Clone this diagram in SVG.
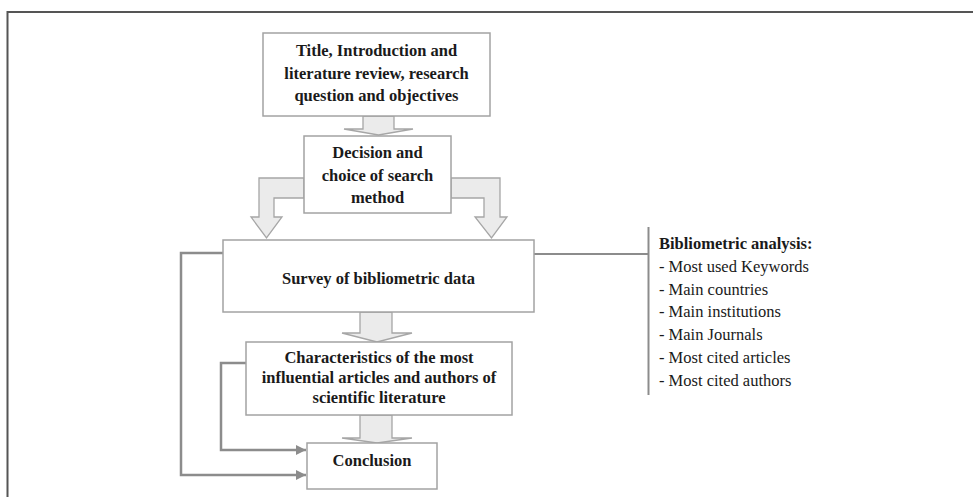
<svg xmlns="http://www.w3.org/2000/svg" width="973" height="497" viewBox="0 0 973 497">
<defs>
<style>
.box{fill:#fff;stroke:#a3a3a3;stroke-width:1.5}
.blk{fill:#ebebeb;stroke:#a6a6a6;stroke-width:1.3;stroke-linejoin:miter}
.fb{fill:none;stroke:#8c8c8c;stroke-width:2.5}
.t{font-family:"Liberation Serif","Times New Roman",serif;font-size:16.5px;font-weight:bold;fill:#1a1a1a;text-anchor:middle}
.l{font-family:"Liberation Serif","Times New Roman",serif;font-size:16.5px;fill:#1a1a1a}
</style>
<marker id="ah" viewBox="0 0 10 10" refX="10" refY="5" markerWidth="4" markerHeight="4" orient="auto" markerUnits="strokeWidth">
<path d="M0,0 L10,5 L0,10 Z" fill="#8c8c8c"/>
</marker>
</defs>
<rect width="973" height="497" fill="#fff"/>
<path d="M7.5,497 V12 H973" fill="none" stroke="#555" stroke-width="2"/>
<g id="connectors">
<polygon class="blk" points="363,116 394,116 394,129 413,129 378.5,135 344,129 363,129"/>
<polygon class="blk" points="304,178 259,178 259,217 251,217 266.5,238 282,217 274,217 274,198 304,198"/>
<polygon class="blk" points="451,178 500,178 500,217 507,217 491.5,238 475,217 484,217 484,198 451,198"/>
<polygon class="blk" points="360,312 392,312 392,333 412,333 377,342 342,333 360,333"/>
<polygon class="blk" points="360,415 392,415 392,438 412,438 377,443 342,438 360,438"/>
<path class="fb" d="M223,253 H181 V475 H306" marker-end="url(#ah)"/>
<path class="fb" d="M246,363 H221 V450 H306" marker-end="url(#ah)"/>
<path d="M534,254 H648" fill="none" stroke="#8c8c8c" stroke-width="2"/>
<path d="M648.5,227 V395" fill="none" stroke="#8c8c8c" stroke-width="2"/>
</g>
<g id="n1">
<rect class="box" x="263" y="33" width="227" height="83"/>
<text class="t" x="376.5" y="56">Title, Introduction and</text>
<text class="t" x="376.5" y="79">literature review, research</text>
<text class="t" x="376.5" y="101">question and objectives</text>
</g>
<g id="n2">
<rect class="box" x="304" y="136" width="147" height="77"/>
<text class="t" x="377.5" y="158">Decision and</text>
<text class="t" x="377.5" y="181">choice of search</text>
<text class="t" x="377.5" y="203">method</text>
</g>
<g id="n3">
<rect class="box" x="223" y="240" width="311" height="72"/>
<text class="t" x="378.5" y="284">Survey of bibliometric data</text>
</g>
<g id="n4">
<rect class="box" x="246" y="342" width="266" height="73"/>
<text class="t" x="379" y="363">Characteristics of the most</text>
<text class="t" x="379" y="383">influential articles and authors of</text>
<text class="t" x="379" y="403">scientific literature</text>
</g>
<g id="n5">
<rect class="box" x="307" y="443" width="130" height="46"/>
<text class="t" x="372" y="466">Conclusion</text>
</g>
<g id="n6">
<text class="l" x="659" y="249" font-weight="bold">Bibliometric analysis:</text>
<text class="l" x="659" y="272">- Most used Keywords</text>
<text class="l" x="659" y="295">- Main countries</text>
<text class="l" x="659" y="317">- Main institutions</text>
<text class="l" x="659" y="340">- Main Journals</text>
<text class="l" x="659" y="363">- Most cited articles</text>
<text class="l" x="659" y="386">- Most cited authors</text>
</g>
</svg>
